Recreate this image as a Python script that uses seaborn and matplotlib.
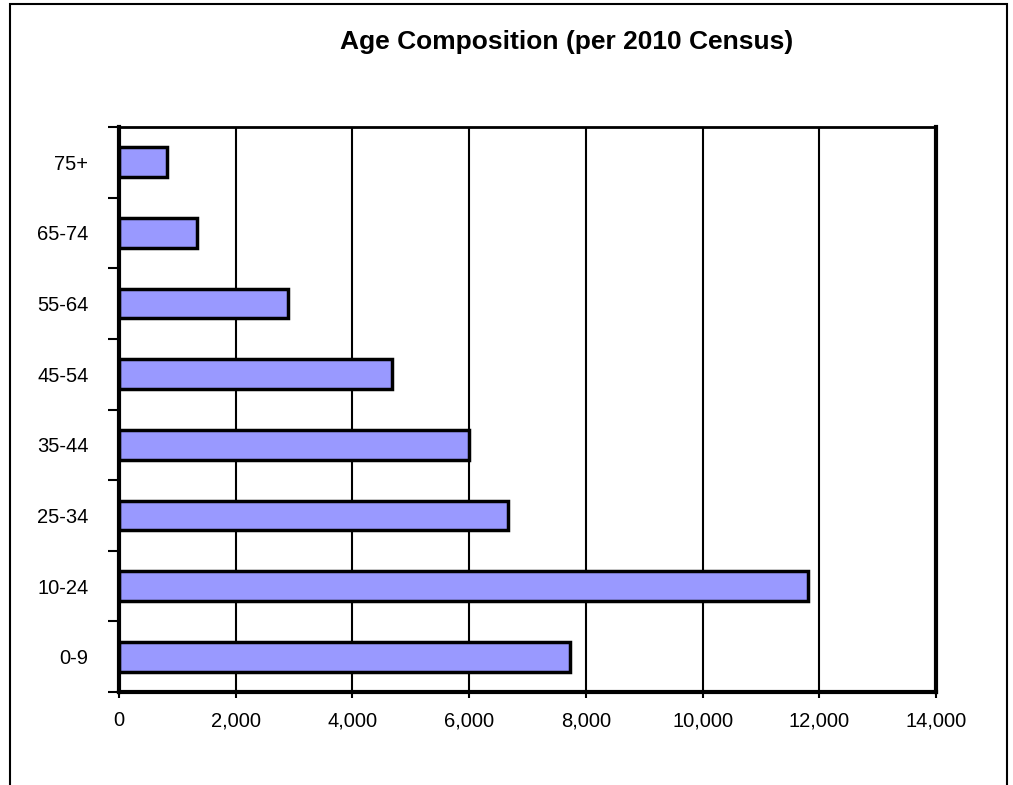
import matplotlib.pyplot as plt
import seaborn as sns
from matplotlib.patches import Rectangle

# age groups, top to bottom as drawn
age_groups = ["75+", "65-74", "55-64", "45-54", "35-44", "25-34", "10-24", "0-9"]
population = [820, 1330, 2890, 4675, 6000, 6665, 11810, 7730]
x_ticks = [0, 2000, 4000, 6000, 8000, 10000, 12000, 14000]

sns.set_style("white")
plt.rcParams["font.family"] = ["Liberation Sans", "DejaVu Sans"]
plt.rcParams["text.color"] = "black"
plt.rcParams["xtick.color"] = "black"
plt.rcParams["ytick.color"] = "black"

fig = plt.figure(figsize=(10.13, 7.85), dpi=100)
ax = fig.add_axes([119 / 1013, 1 - 692 / 785, 817 / 1013, 565 / 785])

sns.barplot(x=population, y=age_groups, orient="h", color="#9999FF",
            edgecolor="black", linewidth=2.5, width=0.42, saturation=1, ax=ax)

ax.set_xlim(0, 14000)
ax.set_ylim(len(age_groups) - 0.5, -0.5)
ax.set_xticks(x_ticks)
ax.set_xticklabels([f"{v:,}" for v in x_ticks])
ax.set_xlabel("")
ax.set_ylabel("")

# vertical grid lines
ax.set_axisbelow(True)
ax.xaxis.grid(True, color="black", linewidth=1.5)
ax.yaxis.grid(False)

# y ticks sit between the categories
ax.set_yticks([i + 0.5 for i in range(-1, len(age_groups))], minor=True)
ax.tick_params(axis="y", which="major", length=0, pad=22, labelsize=14.5)
ax.tick_params(axis="y", which="minor", length=8, width=1.5, color="black", direction="out", left=True)
ax.tick_params(axis="x", which="major", length=4, width=1.5, color="black", direction="out",
               bottom=True, pad=10, labelsize=14.5)

for side, lw in [("left", 3), ("bottom", 3), ("right", 3), ("top", 2)]:
    ax.spines[side].set_visible(True)
    ax.spines[side].set_color("black")
    ax.spines[side].set_linewidth(lw)

fig.text(567 / 1013, 1 - 42 / 785, "Age Composition (per 2010 Census)",
         ha="center", va="center", fontsize=19, fontweight="bold")

# outer frame
fig.patches.append(Rectangle((10 / 1013, -0.02), 997 / 1013, 0.02 + 781 / 785,
                             transform=fig.transFigure, fill=False,
                             edgecolor="black", linewidth=1.5))

fig.savefig("out.png", dpi=100)
